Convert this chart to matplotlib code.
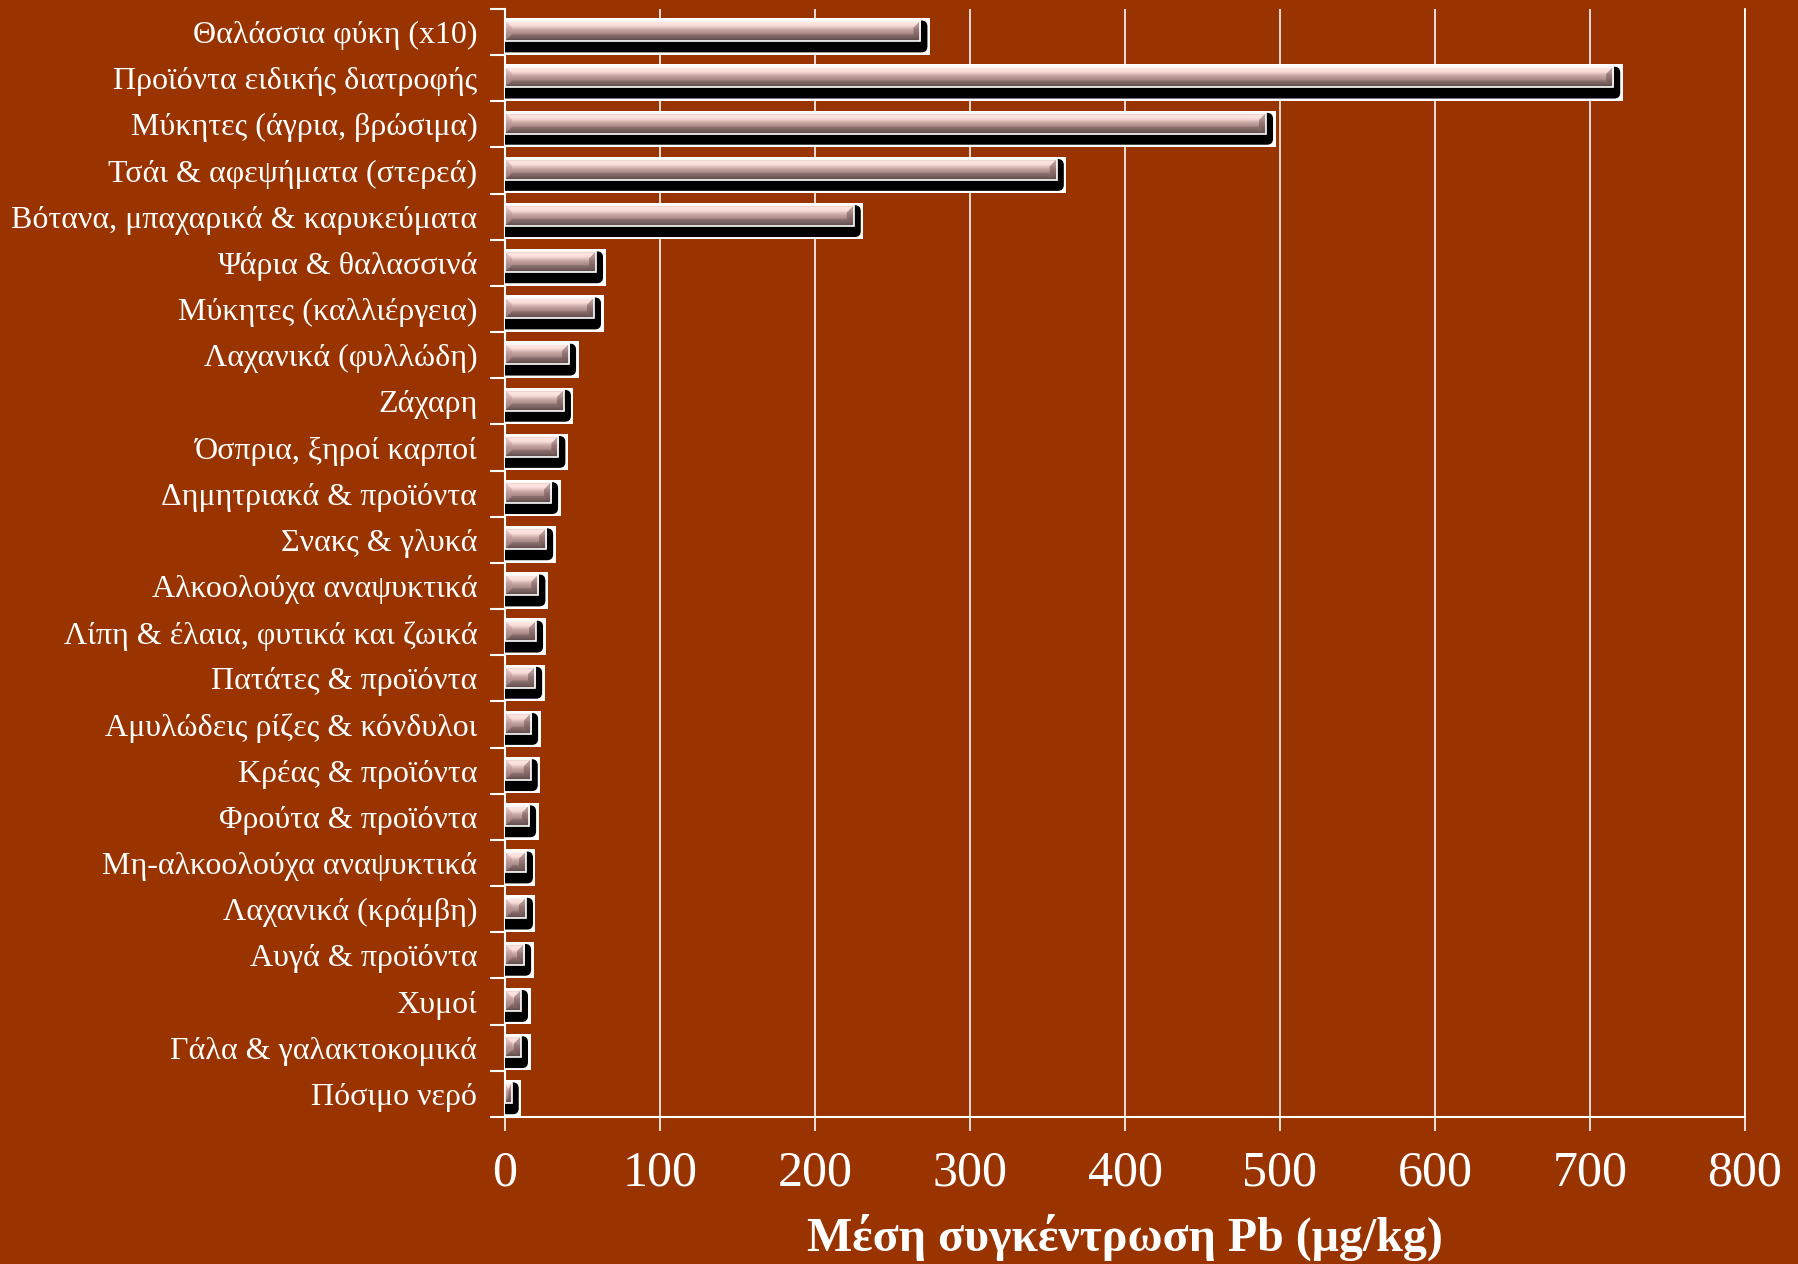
import numpy as np
import matplotlib.pyplot as plt
from matplotlib.patches import Rectangle, FancyBboxPatch, Polygon
from matplotlib.colors import LinearSegmentedColormap

plt.rcParams['font.family'] = ['Liberation Serif', 'DejaVu Serif']

# Δεδομένα
κατηγορίες = [
    'Θαλάσσια φύκη (x10)', 'Προϊόντα ειδικής διατροφής', 'Μύκητες (άγρια, βρώσιμα)',
    'Τσάι & αφεψήματα (στερεά)', 'Βότανα, μπαχαρικά & καρυκεύματα', 'Ψάρια & θαλασσινά',
    'Μύκητες (καλλιέργεια)', 'Λαχανικά (φυλλώδη)', 'Ζάχαρη', 'Όσπρια, ξηροί καρποί',
    'Δημητριακά & προϊόντα', 'Σνακς & γλυκά', 'Αλκοολούχα αναψυκτικά',
    'Λίπη & έλαια, φυτικά και ζωικά', 'Πατάτες & προϊόντα', 'Αμυλώδεις ρίζες & κόνδυλοι',
    'Κρέας & προϊόντα', 'Φρούτα & προϊόντα', 'Μη-αλκοολούχα αναψυκτικά',
    'Λαχανικά (κράμβη)', 'Αυγά & προϊόντα', 'Χυμοί', 'Γάλα & γαλακτοκομικά', 'Πόσιμο νερό',
]
τιμές = [268, 715, 491, 356, 225, 58.7, 57.4, 41.3, 38, 34.4, 29.7, 26.5, 21.5,
         20.0, 19.4, 16.8, 16.6, 15.5, 13.5, 13.5, 12.3, 10.3, 10.3, 4.3]
xticks = [0, 100, 200, 300, 400, 500, 600, 700, 800]
xlabel = 'Μέση συγκέντρωση Pb (μg/kg)'

BG = '#993300'
N = len(κατηγορίες)

fig = plt.figure(figsize=(17.98, 12.64), dpi=100, facecolor=BG)
ax = fig.add_axes([0.2809, 0.1163, 0.6896, 0.8766], facecolor=BG)

# pixeli pe unitate (pentru bevel / umbra)
px_x = 1240 / 800.0
px_y = 1108 / N

grad = LinearSegmentedColormap.from_list('bara', [
    (0.0, '#e8c0b8'), (0.12, '#fde8e4'), (0.28, '#f6dad6'), (0.45, '#c8a8a4'),
    (0.65, '#a88a88'), (0.85, '#866c6c'), (1.0, '#5e4a4a')])
g = np.linspace(0, 1, 64).reshape(-1, 1)

for k, v in enumerate(τιμές):
    # cutia alba
    ax.add_patch(Rectangle((0, k + 0.20), v + 9.5 / px_x, 0.79,
                           facecolor='white', edgecolor='none', zorder=3))
    # umbra neagra cu colturi rotunjite
    r = 6.0 / px_x
    ax.add_patch(FancyBboxPatch((-3 * r, k + 0.25), v + 7 / px_x + 3 * r, 0.69,
                                boxstyle=f'round,pad=0,rounding_size={r}',
                                mutation_aspect=px_x / px_y,
                                facecolor='black', edgecolor='none', zorder=4))
    # fata barei cu gradient
    y0, y1 = k + 0.253, k + 0.70
    ax.imshow(g, extent=[0, v, y1, y0], aspect='auto', cmap=grad,
              interpolation='bilinear', zorder=5)
    bx = min(7 / px_x, v / 2)
    by = min(7 / px_y, (y1 - y0) / 2)
    # bevel: stanga, dreapta, jos
    ax.add_patch(Polygon([(0, y0), (bx, y0 + by), (bx, y1 - by), (0, y1)],
                         closed=True, facecolor='#b89494', alpha=0.45,
                         edgecolor='none', zorder=6))
    ax.add_patch(Polygon([(v, y0), (v - bx, y0 + by), (v - bx, y1 - by), (v, y1)],
                         closed=True, facecolor='#5a4040', alpha=0.45,
                         edgecolor='none', zorder=6))
    ax.add_patch(Polygon([(0, y1), (bx, y1 - by), (v - bx, y1 - by), (v, y1)],
                         closed=True, facecolor='#4a3636', alpha=0.25,
                         edgecolor='none', zorder=6))
    ax.add_patch(Rectangle((0, y0), v, y1 - y0, fill=False, edgecolor='white',
                           lw=1.2, zorder=7))

ax.set_xlim(0, 800)
ax.set_ylim(N, 0)

ax.set_xticks(xticks)
ax.set_xticklabels([str(t) for t in xticks])
ax.set_yticks(np.arange(N + 1))
ax.set_yticklabels([])
ax.set_yticks(np.arange(N) + 0.5, minor=True)
ax.set_yticklabels(κατηγορίες, minor=True)

ax.tick_params(axis='x', colors='white', labelsize=36, length=10, width=1.2,
               direction='out', pad=14)
ax.tick_params(axis='y', which='major', colors='white', length=11, width=1.5,
               direction='out')
ax.tick_params(axis='y', which='minor', colors='white', labelsize=23, length=0,
               pad=20)

ax.grid(axis='x', color='#f4e8e8', lw=1.3, zorder=1)
ax.set_axisbelow(True)
for s in ['left', 'bottom', 'right']:
    ax.spines[s].set_color('white')
    ax.spines[s].set_linewidth(1.5)
ax.spines['right'].set_linewidth(1.3)
ax.spines['top'].set_visible(False)

ax.set_xlabel(xlabel, color='white', fontsize=34.5, fontweight='bold', labelpad=12)

fig.savefig('out.png', dpi=100, facecolor=BG)
